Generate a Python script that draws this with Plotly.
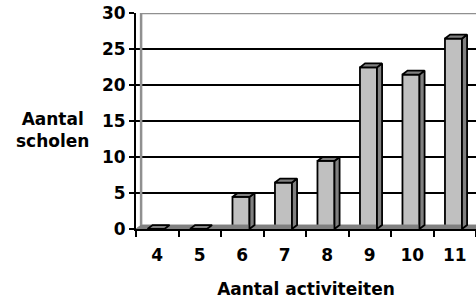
import plotly.graph_objects as go

categories = [4, 5, 6, 7, 8, 9, 10, 11]
values = [0, 0, 5, 7, 10, 23, 22, 27]
y_ticks = [0, 5, 10, 15, 20, 25, 30]
x_title = "Aantal activiteiten"
y_title = "Aantal<br>scholen"

FONT = "DejaVu Sans"
FRONT = "#c0c0c0"
DARK = "#808080"
depth_y = 0.55   # 3D depth in value units
depth_x = 0.12   # 3D depth in category units
half_w = 0.2

fig = go.Figure()

x0, x1 = categories[0] - 0.5, categories[-1] + 0.5

# floor
fig.add_trace(go.Scatter(
    x=[x0, x1 + 1, x1 + 1, x0 + depth_x, x0], y=[0, 0, depth_y, depth_y, 0],
    fill="toself", fillcolor=DARK, mode="lines", line=dict(color=DARK, width=1),
    hoverinfo="skip", showlegend=False))

# back wall lines
fig.add_trace(go.Scatter(
    x=[x0 + depth_x, x0 + depth_x, x1 + 1], y=[depth_y, 30, 30],
    mode="lines", line=dict(color="#909090", width=2.5),
    hoverinfo="skip", showlegend=False, cliponaxis=False))

# front faces
fronts = [max(v - depth_y, 0) for v in values]
fig.add_trace(go.Bar(
    x=categories, y=fronts, width=2 * half_w, offset=-half_w - 0.03,
    marker=dict(color=FRONT, line=dict(color="black", width=1.8)),
    hoverinfo="skip", showlegend=False))

for c, v, h in zip(categories, values, fronts):
    l = c - half_w - 0.03
    r = c + half_w - 0.03
    # side face
    if h > 0:
        fig.add_trace(go.Scatter(
            x=[r, r, r + depth_x, r + depth_x, r], y=[0, h, h + depth_y, depth_y, 0],
            fill="toself", fillcolor=DARK, mode="lines",
            line=dict(color="black", width=1.8), hoverinfo="skip", showlegend=False))
    # top face
    fig.add_trace(go.Scatter(
        x=[l, r, r + depth_x, l + depth_x, l], y=[h, h, h + depth_y, h + depth_y, h],
        fill="toself", fillcolor=DARK, mode="lines",
        line=dict(color="black", width=1.8), hoverinfo="skip", showlegend=False))

fig.update_layout(
    width=476, height=304,
    margin=dict(l=136, r=0, t=13, b=75),
    plot_bgcolor="white", paper_bgcolor="white",
    font=dict(family=FONT, size=17, color="black"),
    barmode="overlay",
    xaxis=dict(
        range=[x0, x1], tickmode="array", tickvals=categories,
        ticktext=[str(c) for c in categories],
        ticks="", showline=True, linecolor="black", linewidth=2,
        showgrid=False, zeroline=False, ticklabelstandoff=10,
        tickfont=dict(family=FONT, size=17, color="black", weight="bold"),
        minor=dict(tickmode="array", tickvals=[c - 0.5 for c in categories] + [x1],
                   ticks="outside", ticklen=6, tickwidth=2, tickcolor="black"),
        title=dict(text=x_title, standoff=19,
                   font=dict(family=FONT, size=17, color="black", weight="bold")),
    ),
    yaxis=dict(
        range=[0, 30], tickmode="array", tickvals=y_ticks,
        ticks="outside", ticklen=5, tickwidth=2, tickcolor="black",
        showline=True, linecolor="black", linewidth=2,
        showgrid=True, gridcolor="black", gridwidth=1.5, zeroline=False,
        tickfont=dict(family=FONT, size=17, color="black", weight="bold"),
    ),
    annotations=[dict(
        text=y_title, xref="paper", yref="paper", x=-0.245, y=0.46,
        xanchor="center", yanchor="middle", showarrow=False, align="center",
        font=dict(family=FONT, size=17, color="black", weight="bold"))],
)

fig.write_html(
    "out.html",
    config={"displayModeBar": False},
    post_script="document.body.style.margin='0';document.body.style.overflow='hidden';",
)
